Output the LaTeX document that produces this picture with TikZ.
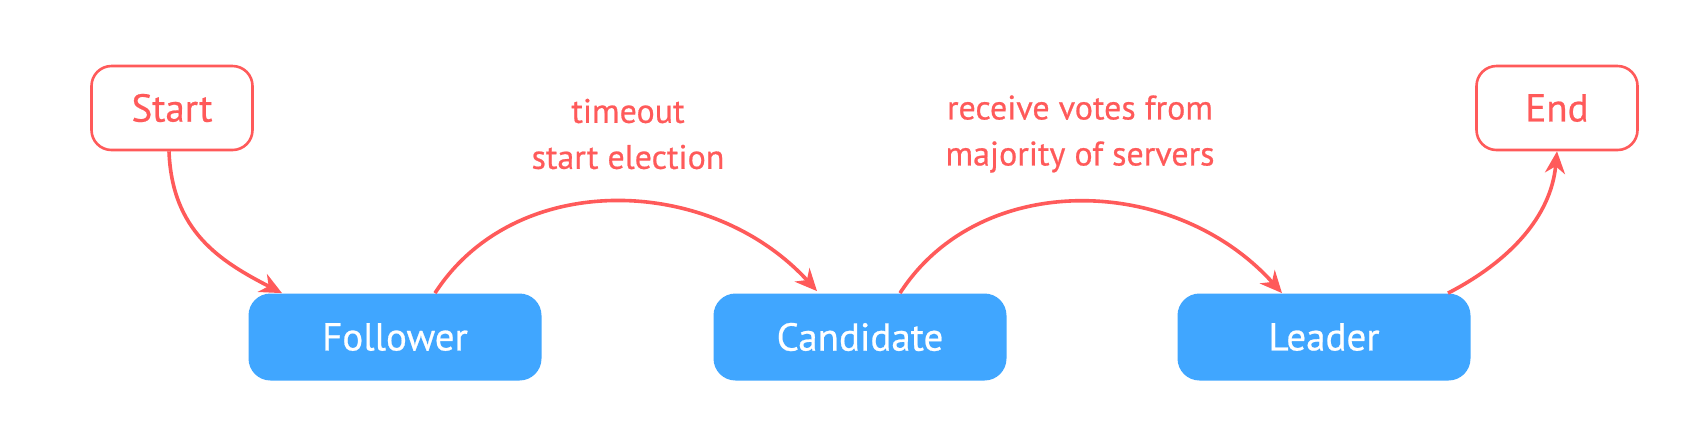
\documentclass[tikz,border=0pt]{standalone}
\usepackage{fontspec}
\setmainfont{PT Sans}[FakeBold=0.6]
\usetikzlibrary{arrows.meta,calc}
\definecolor{myred}{RGB}{255,90,90}
\definecolor{myblue}{RGB}{64,166,255}
\begin{document}
\begin{tikzpicture}[x=0.5pt,y=-0.5pt,
 endbox/.style={draw=myred,line width=1.3pt,rounded corners=10pt,minimum width=80.5pt,minimum height=42pt,text=myred,font=\fontsize{19.5}{20}\selectfont,inner sep=0pt},
 statebox/.style={fill=myblue,rounded corners=11pt,minimum width=146.5pt,minimum height=43.5pt,text=white,font=\fontsize{19.5}{20}\selectfont,inner sep=0pt},
 lbl/.style={text=myred,font=\fontsize{17}{23}\selectfont,align=center,inner sep=0pt},
 conn/.style={draw=myred,line width=1.8pt,-{Stealth[length=11pt,width=10pt,inset=3.5pt]}},
 ]
\fill[white] (0,0) rectangle (1686,420);
\useasboundingbox (0,0) rectangle (1686,420);
\node[endbox] (start) at (172,108) {Start};
\node[endbox] (end) at (1557,108) {End};
\node[statebox] (fol) at (395,337) {Follower};
\node[statebox] (cand) at (860,337) {Candidate};
\node[statebox] (lead) at (1324,337) {Leader};
\node[lbl] (l1) at (628,134) {timeout\\start election};
\node[lbl] (l2) at (1080,134) {receive votes from\\majority of servers};
\draw[conn] ($(start.south)+(-3,0)$) .. controls +(3,80) and +(-62,-32) .. ($(fol.north)+(-113,0)$);
\draw[conn] ($(fol.north)+(40,0)$) .. controls +(80,-124) and +(-107,-117) .. ($(cand.north)+(-43,-2)$);
\draw[conn] ($(cand.north)+(40,0)$) .. controls +(80,-124) and +(-107,-119) .. ($(lead.north)+(-42,0)$);
\draw[conn] ($(lead.north)+(124,0)$) .. controls +(62,-32) and +(-6,65) .. (end.south);
\end{tikzpicture}
\end{document}
